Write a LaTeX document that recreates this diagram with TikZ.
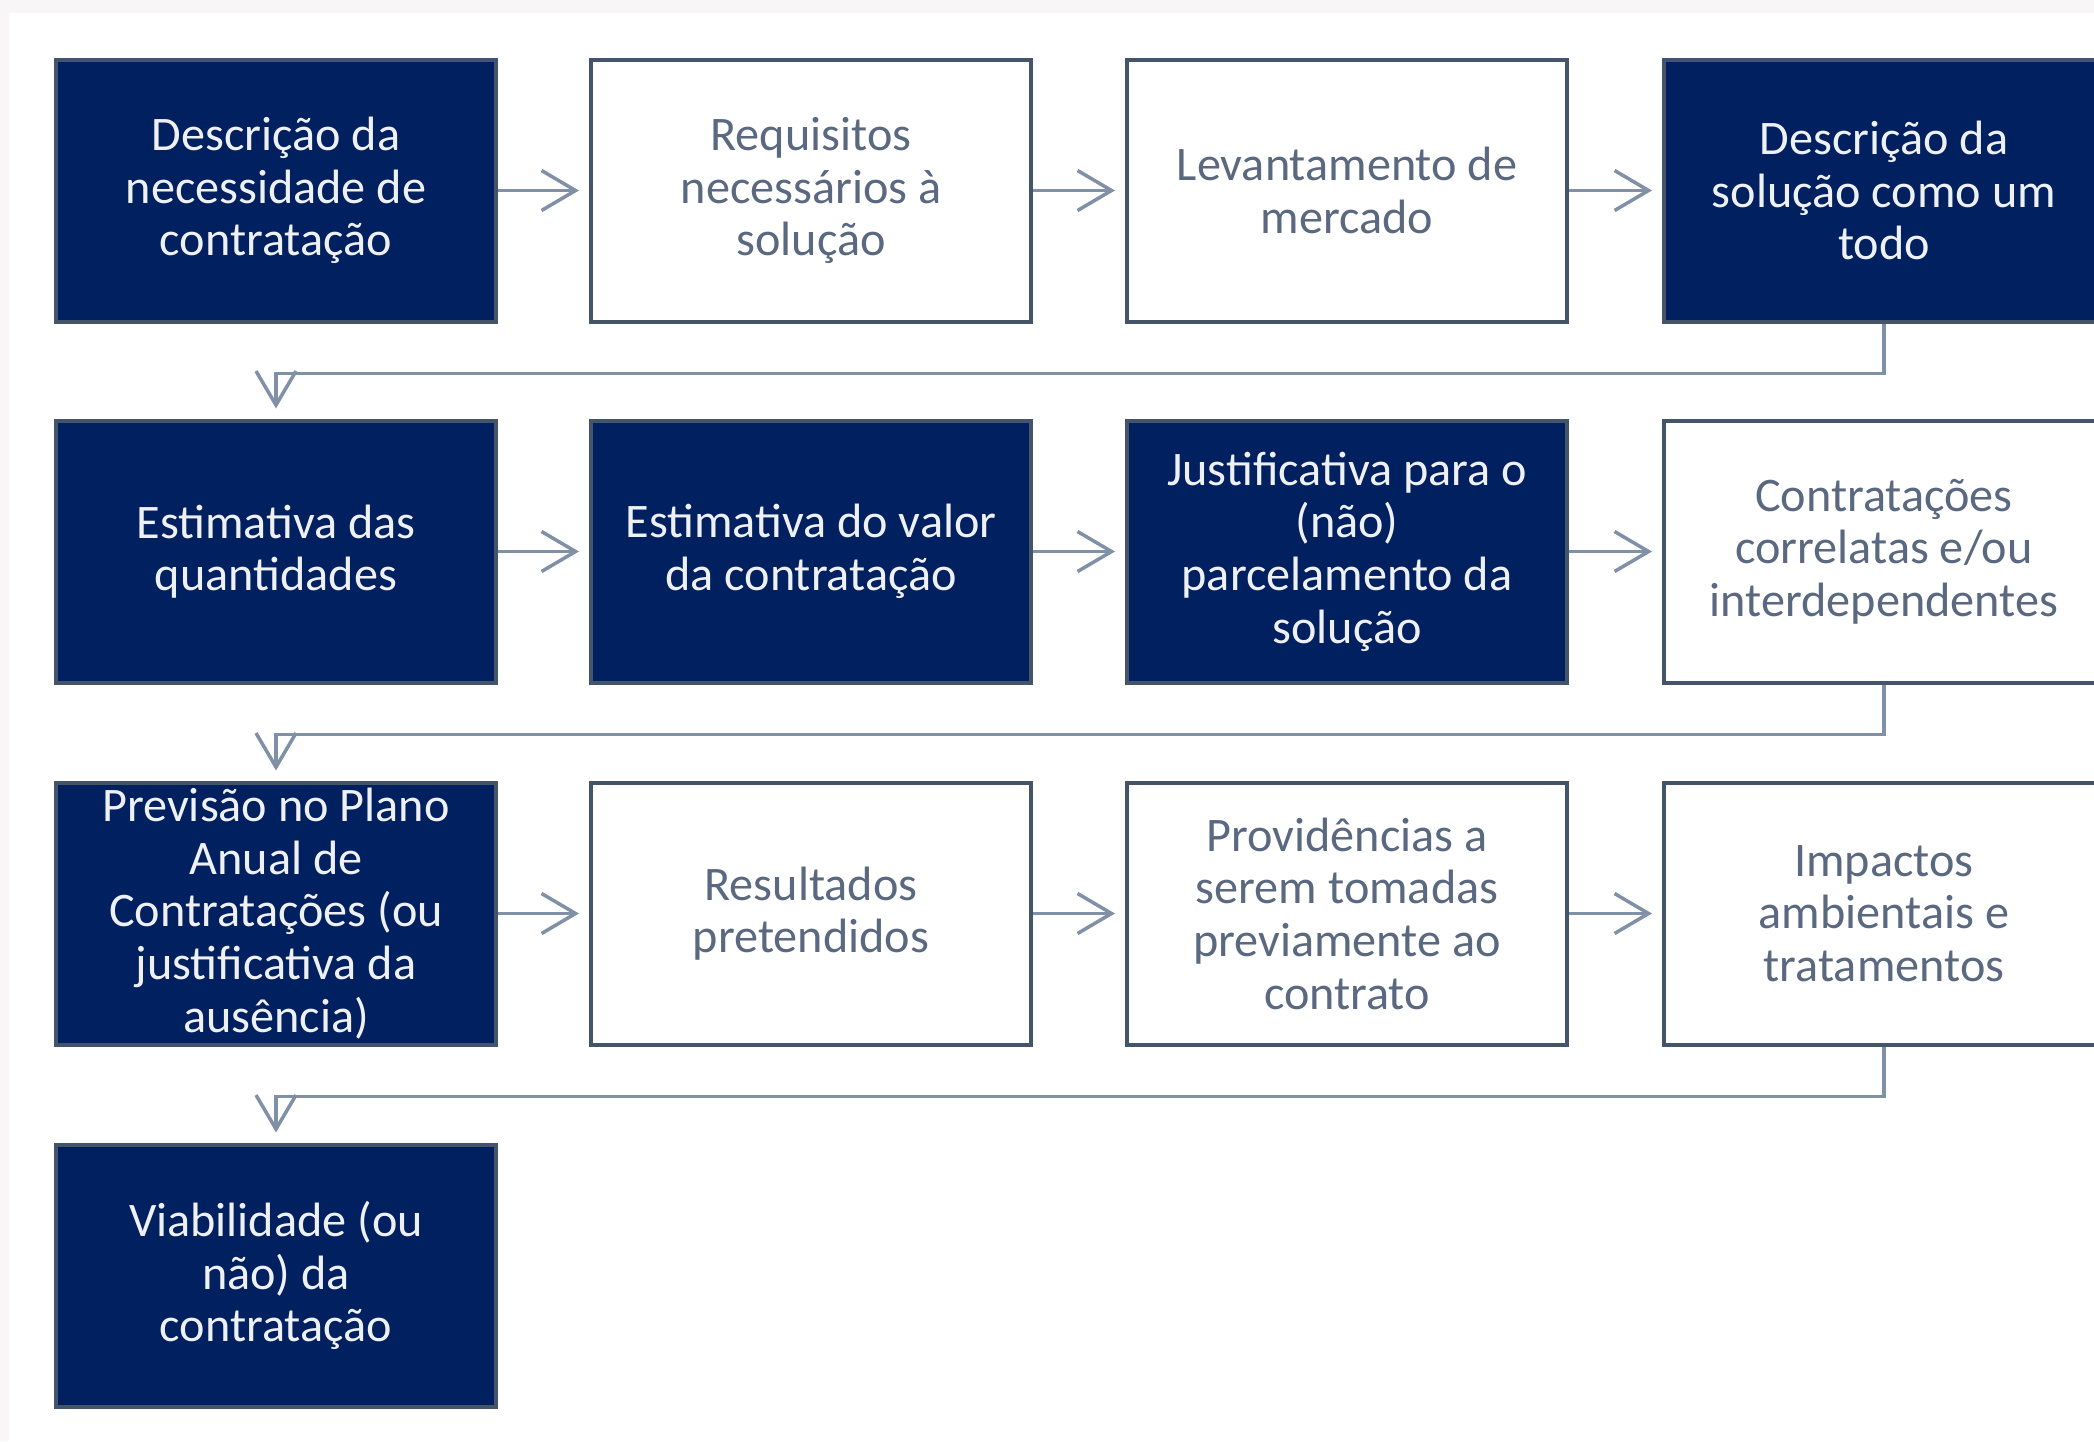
\documentclass[tikz,border=0pt]{standalone}
\usepackage{fontspec}
\setmainfont{Carlito}
\usetikzlibrary{arrows.meta}
\definecolor{navy}{HTML}{002060}
\definecolor{edge}{HTML}{44546A}
\definecolor{conn}{HTML}{8090A6}
\definecolor{greytext}{HTML}{5A6880}
\definecolor{frame}{HTML}{F8F6F7}
\definecolor{wtext}{HTML}{EEF0F4}
\tikzset{
  box/.style={rectangle, draw=edge, line width=4pt, minimum width=440pt, minimum height=262pt,
    inner sep=0pt, align=center, font=\fontsize{48.2}{52.7}\selectfont},
  darkbox/.style={box, fill=navy, text=wtext},
  lightbox/.style={box, fill=white, text=greytext},
  conarrow/.style={draw=conn, line width=3.5pt,
    -{Straight Barb[length=34pt, width=40pt, line width=3.5pt]}, shorten >=10pt},
}
\begin{document}
\begin{tikzpicture}[x=1pt, y=-1pt]
\useasboundingbox (0,0) rectangle (2094,1441);
\fill[frame] (0,0) rectangle (2094,1441);
\fill[white] (9,13) rectangle (2094,1441);

% row 1
\node[darkbox]  (a1) at (276,190.5) {Descrição da\\necessidade de\\contratação};
\node[lightbox] (a2) at (811,190.5) {Requisitos\\necessários à\\solução};
\node[lightbox] (a3) at (1347,190.5) {Levantamento de\\mercado};
\node[darkbox]  (a4) at (1884,190.5) {Descrição da\\solução como um\\todo};
% row 2
\node[darkbox]  (b1) at (276,551.5) {Estimativa das\\quantidades};
\node[darkbox]  (b2) at (811,551.5) {Estimativa do valor\\da contratação};
\node[darkbox]  (b3) at (1347,551.5) {Justificativa para o\\(não)\\parcelamento da\\solução};
\node[lightbox] (b4) at (1884,551.5) {Contratações\\correlatas e/ou\\interdependentes};
% row 3
\node[darkbox]  (c1) at (276,913.5) {Previsão no Plano\\Anual de\\Contratações (ou\\justificativa da\\ausência)};
\node[lightbox] (c2) at (811,913.5) {Resultados\\pretendidos};
\node[lightbox] (c3) at (1347,913.5) {Providências a\\serem tomadas\\previamente ao\\contrato};
\node[lightbox] (c4) at (1884,913.5) {Impactos\\ambientais e\\tratamentos};
% row 4
\node[darkbox]  (d1) at (276,1275.5) {Viabilidade (ou\\não) da\\contratação};

% horizontal arrows
\draw[conarrow] (a1.east) -- (a2.west);
\draw[conarrow] (a2.east) -- (a3.west);
\draw[conarrow] (a3.east) -- (a4.west);
\draw[conarrow] (b1.east) -- (b2.west);
\draw[conarrow] (b2.east) -- (b3.west);
\draw[conarrow] (b3.east) -- (b4.west);
\draw[conarrow] (c1.east) -- (c2.west);
\draw[conarrow] (c2.east) -- (c3.west);
\draw[conarrow] (c3.east) -- (c4.west);

% elbow connectors
\draw[conarrow] (a4.south) -- ++(0,50) -| (b1.north);
\draw[conarrow] (b4.south) -- ++(0,50) -| (c1.north);
\draw[conarrow] (c4.south) -- ++(0,50) -| (d1.north);
\end{tikzpicture}
\end{document}
